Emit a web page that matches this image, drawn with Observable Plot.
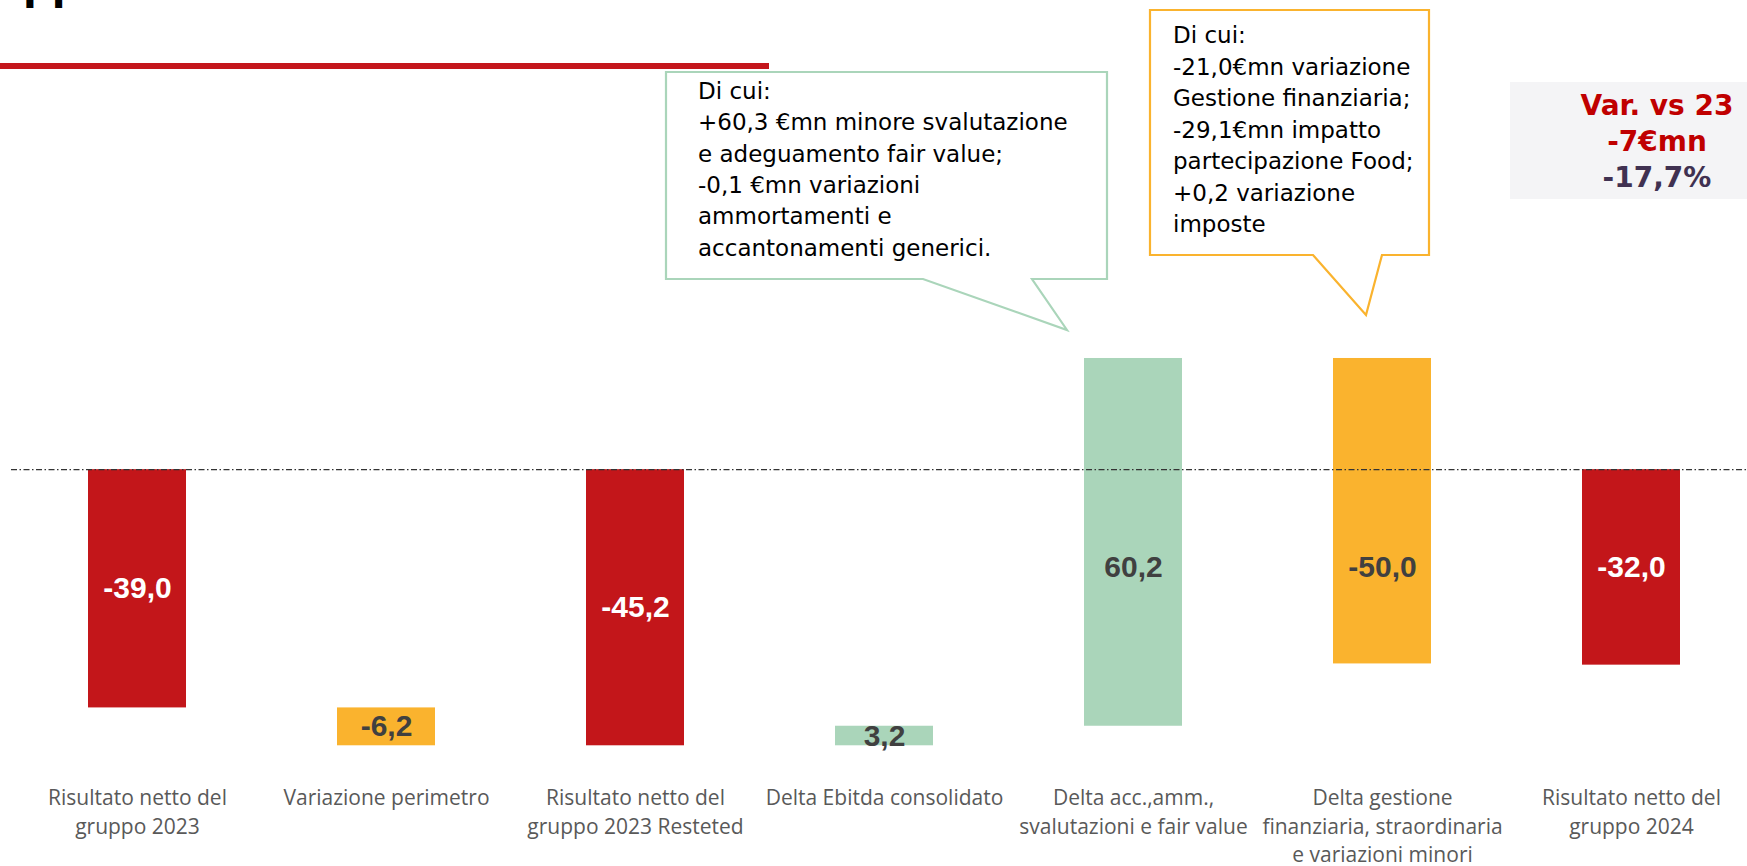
<!DOCTYPE html>
<html>
<head>
<meta charset="utf-8">
<script src="https://cdn.jsdelivr.net/npm/d3@7"></script>
<script src="https://cdn.jsdelivr.net/npm/@observablehq/plot@0.6"></script>
<style>
  html, body { margin: 0; padding: 0; background: #fff; }
  #wrap { position: relative; width: 1747px; height: 866px; overflow: hidden; background: #fff; }
  #wrap > * { position: absolute; left: 0; top: 0; }
  #title { font-family: "DejaVu Sans", sans-serif; font-weight: bold; font-size: 40px; line-height: 40px; left: 23px; top: -35px; color: #000; white-space: nowrap; }
  #redline { left: 0; top: 63px; width: 769px; height: 6px; background: #C4161C; }
  #overlay { pointer-events: none; }
</style>
</head>
<body>
<div id="wrap">
  <div id="title">pp</div>
  <div id="redline"></div>
  <div id="chart"></div>
  <svg id="overlay" width="1747" height="866" xmlns="http://www.w3.org/2000/svg"></svg>
</div>
<script>
// ---- data ----
const categories = [
  "Risultato netto del\ngruppo 2023",
  "Variazione perimetro",
  "Risultato netto del\ngruppo 2023 Resteted",
  "Delta Ebitda consolidato",
  "Delta acc.,amm.,\nsvalutazioni e fair value",
  "Delta gestione\nfinanziaria, straordinaria\ne variazioni minori",
  "Risultato netto del\ngruppo 2024"
];
const values = [-39.0, -6.2, -45.2, 3.2, 60.2, -50.0, -32.0];
const kinds = ["total", "delta", "total", "delta", "delta", "delta", "total"];
const valueLabels = ["-39,0", "-6,2", "-45,2", "3,2", "60,2", "-50,0", "-32,0"];

const calloutGreen = [
  "Di cui:",
  "+60,3 €mn minore svalutazione",
  "e adeguamento fair value;",
  "-0,1 €mn variazioni",
  "ammortamenti e",
  "accantonamenti generici."
];
const calloutOrange = [
  "Di cui:",
  "-21,0€mn variazione",
  "Gestione finanziaria;",
  "-29,1€mn impatto",
  "partecipazione Food;",
  "+0,2 variazione",
  "imposte"
];
const varLines = ["Var. vs 23", "-7€mn", "-17,7%"];

// ---- waterfall table ----
const colorTotal = "#C3161A", colorNeg = "#FAB32E", colorPos = "#AAD5BA";
let running = 0;
const rows = categories.map((c, i) => {
  const v = values[i];
  let y1, y2;
  if (kinds[i] === "total") { y1 = 0; y2 = v; running = v; }
  else { y1 = running; y2 = running + v; running += v; }
  const fill = kinds[i] === "total" ? colorTotal : (v < 0 ? colorNeg : colorPos);
  return { cat: c, v, y1, y2, fill, label: valueLabels[i],
           labelFill: kinds[i] === "total" ? "#FFFFFF" : "#404040" };
});
// labels of the bars that cross zero sit level with the final bar's label
const finalMid = values[values.length - 1] / 2;
rows.forEach(r => {
  const crosses = Math.min(r.y1, r.y2) < 0 && Math.max(r.y1, r.y2) > 0;
  r.ly = crosses ? finalMid : (r.y1 + r.y2) / 2;
});

const chart = Plot.plot({
  width: 1747,
  height: 866,
  marginTop: 0,
  marginBottom: 81,
  marginLeft: 11,
  marginRight: 0,
  style: { fontFamily: "'Open Sans', sans-serif", background: "transparent" },
  x: { domain: categories, paddingInner: 0.607, paddingOuter: 0.285, align: 0.535, label: null },
  y: { domain: [-51.7, 76.8], axis: null },
  marks: [
    Plot.barY(rows, { x: "cat", y1: "y1", y2: "y2", fill: "fill" }),
    Plot.ruleY([0], { stroke: "#333333", strokeWidth: 1.3, strokeDasharray: "6,2.5,1.5,2.5" }),
    Plot.text(rows, { x: "cat", y: "ly", text: "label", fill: "labelFill",
      fontFamily: "'Liberation Sans', Arial, sans-serif", fontWeight: "bold", fontSize: 30 }),
    Plot.axisX({ anchor: "bottom", tickSize: 0, tickPadding: 0, fontSize: 21,
      lineHeight: 1.34, color: "#595959", label: null })
  ]
});
document.getElementById("chart").appendChild(chart);

// ---- callouts / annotation overlay ----
const ov = d3.select("#overlay");
ov.append("polygon")
  .attr("points", "666,72 1107,72 1107,279 1032,279 1067,330 923,279 666,279")
  .attr("fill", "#FFFFFF").attr("stroke", "#AAD5BA").attr("stroke-width", 2.2);
ov.append("text")
  .attr("font-family", "'DejaVu Sans', sans-serif").attr("font-size", 23).attr("fill", "#000")
  .selectAll("tspan").data(calloutGreen).join("tspan")
  .attr("x", 698).attr("y", (d, i) => 99 + i * 31.3).text(d => d);

ov.append("polygon")
  .attr("points", "1150,10 1429,10 1429,255 1382,255 1366,315 1313,255 1150,255")
  .attr("fill", "#FFFFFF").attr("stroke", "#FAB32E").attr("stroke-width", 2.2);
ov.append("text")
  .attr("font-family", "'DejaVu Sans', sans-serif").attr("font-size", 23).attr("fill", "#000")
  .selectAll("tspan").data(calloutOrange).join("tspan")
  .attr("x", 1173).attr("y", (d, i) => 43 + i * 31.5).text(d => d);

ov.append("rect").attr("x", 1510).attr("y", 82).attr("width", 237).attr("height", 117)
  .attr("fill", "#F4F4F6");
ov.append("text")
  .attr("font-family", "'DejaVu Sans', sans-serif").attr("font-weight", "bold")
  .attr("font-size", 28).attr("text-anchor", "middle")
  .selectAll("tspan").data(varLines).join("tspan")
  .attr("x", 1657).attr("y", (d, i) => 115 + i * 36)
  .attr("fill", (d, i) => i < 2 ? "#C00000" : "#403151").text(d => d);
</script>
</body>
</html>
